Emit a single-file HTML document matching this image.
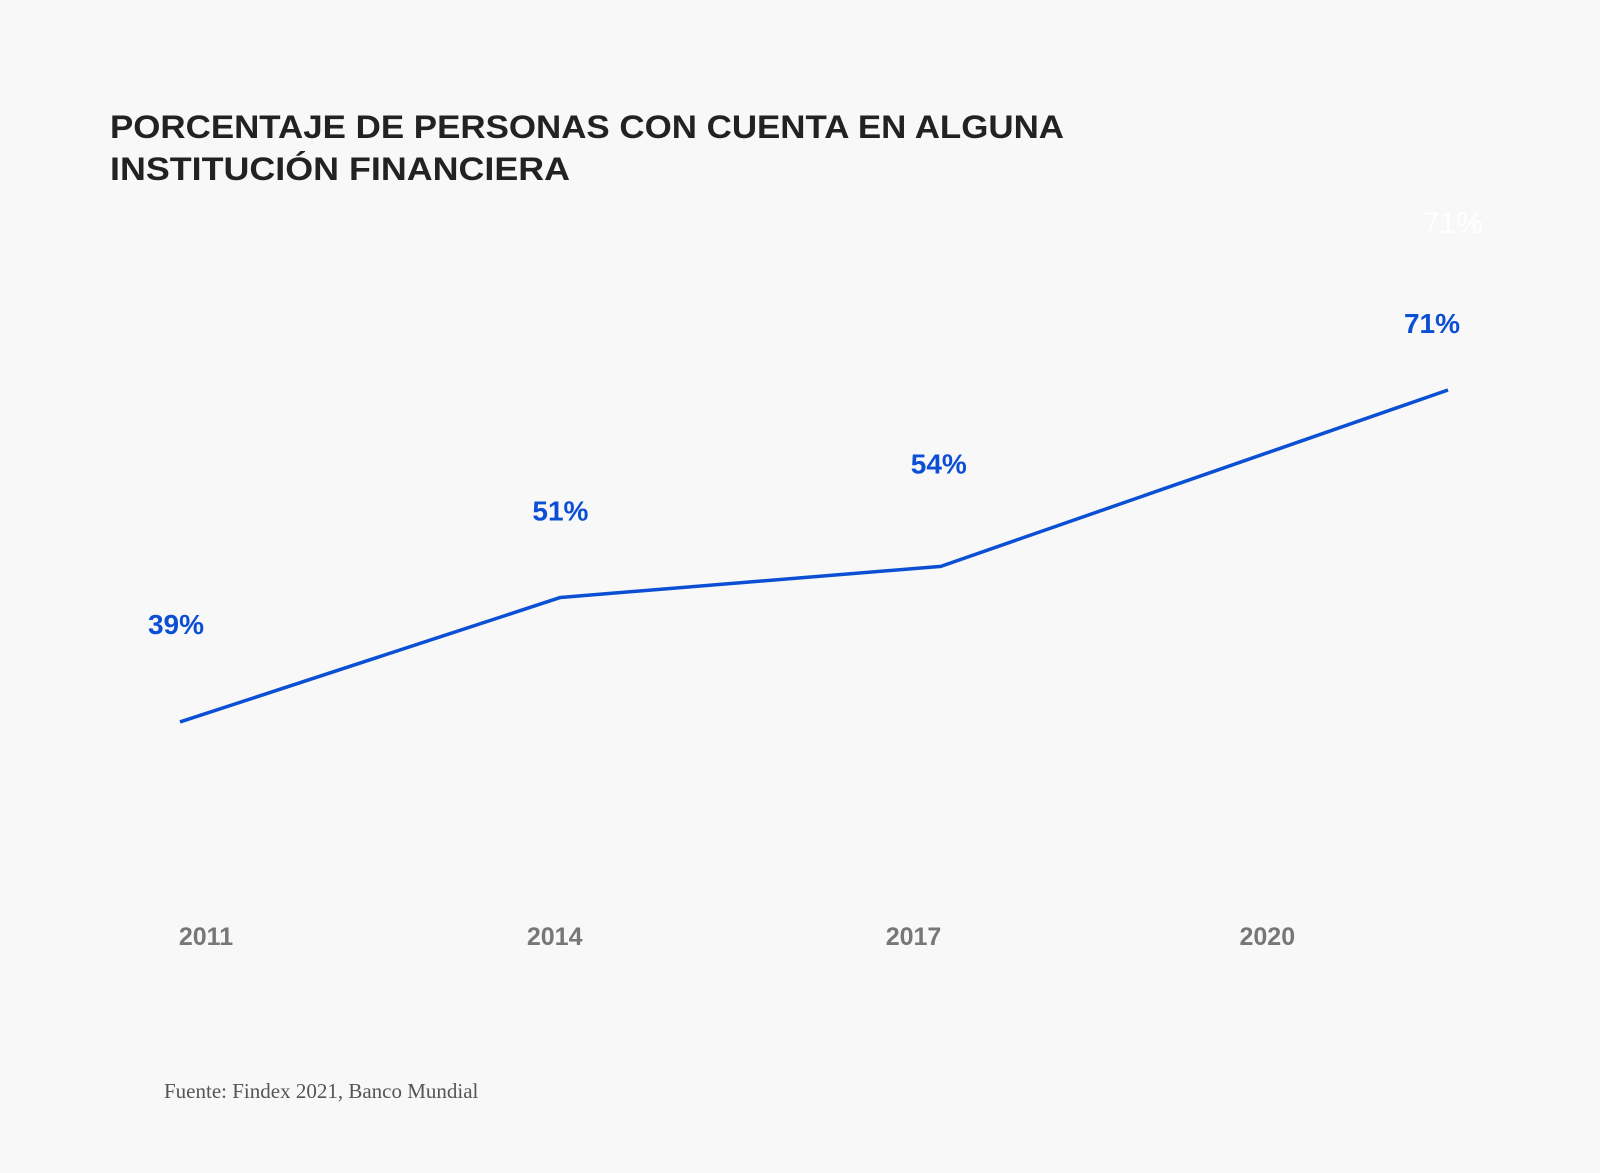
<!DOCTYPE html>
<html><head><meta charset="utf-8"><style>
html,body{margin:0;padding:0;background:#f8f8f8;}
svg{display:block;}
</style></head>
<body>
<svg width="1600" height="1173" viewBox="0 0 1600 1173" xmlns="http://www.w3.org/2000/svg">
<rect width="1600" height="1173" fill="#f8f8f8"/>
<g font-family="Liberation Sans, sans-serif" font-weight="bold" font-size="32" fill="#222">
<text x="110" y="138" textLength="954" lengthAdjust="spacingAndGlyphs">PORCENTAJE DE PERSONAS CON CUENTA EN ALGUNA</text>
<text x="110" y="180" textLength="460" lengthAdjust="spacingAndGlyphs">INSTITUCIÓN FINANCIERA</text>
</g>
<text x="1453" y="233" text-anchor="middle" font-family="Liberation Sans, sans-serif" font-size="30" fill="#ffffff">71%</text>
<g id="plot"></g>
<text x="164" y="1098" font-family="Liberation Serif, serif" font-size="21" fill="#555">Fuente: Findex 2021, Banco Mundial</text>
</svg>
<script>
const years = [2011, 2014, 2017, 2021];
const values = [39, 51, 54, 71];
const valueLabels = ["39%", "51%", "54%", "71%"];
const tickLabels = ["2011", "2014", "2017", "2020"];
const tickYears = [2011, 2013.75, 2016.58, 2019.37];

const NS = "http://www.w3.org/2000/svg";
const plot = document.getElementById("plot");
function xScale(yr){ return 180 + (yr - 2011) * 126.8; }
function yScale(v){ return 1126.6 - v * 10.375; }

const pts = years.map((yr,i)=>[xScale(yr), yScale(values[i])]);
const path = document.createElementNS(NS, "polyline");
path.setAttribute("points", pts.map(p=>p.join(",")).join(" "));
path.setAttribute("fill", "none");
path.setAttribute("stroke", "#0b4fd4");
path.setAttribute("stroke-width", "3.5");
path.setAttribute("stroke-linejoin", "round");


plot.appendChild(path);

const labelDx = [-4, 0, -2, -16];
const labelDy = [-88, -77, -93, -57];
values.forEach((v,i)=>{
  const t = document.createElementNS(NS, "text");
  t.setAttribute("x", xScale(years[i]) + labelDx[i]);
  t.setAttribute("y", yScale(v) + labelDy[i]);
  t.setAttribute("text-anchor", "middle");
  t.setAttribute("font-family", "Liberation Sans, sans-serif");
  t.setAttribute("font-weight", "bold");
  t.setAttribute("font-size", "28");
  t.setAttribute("fill", "#0b4fd4");
  t.textContent = valueLabels[i];
  
  
  plot.appendChild(t);
});

tickLabels.forEach((lab,i)=>{
  const t = document.createElementNS(NS, "text");
  t.setAttribute("x", xScale(tickYears[i]) + 26);
  t.setAttribute("y", 945);
  t.setAttribute("text-anchor", "middle");
  t.setAttribute("font-family", "Liberation Sans, sans-serif");
  t.setAttribute("font-weight", "bold");
  t.setAttribute("font-size", "25");
  t.setAttribute("fill", "#777");
  t.textContent = lab;
  
  
  plot.appendChild(t);
});
</script>
</body></html>
